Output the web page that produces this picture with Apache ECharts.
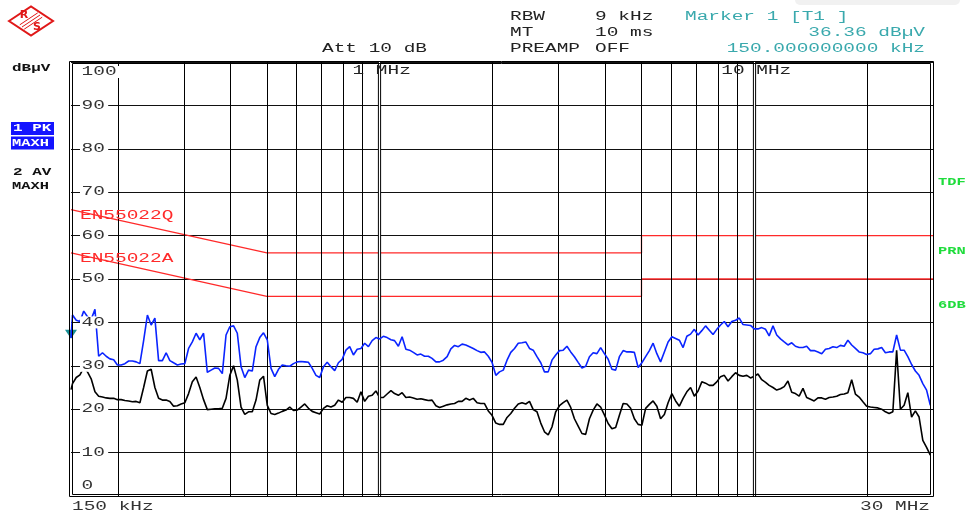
<!DOCTYPE html>
<html>
<head>
<meta charset="utf-8">
<script src="https://cdn.jsdelivr.net/npm/echarts@6/dist/echarts.min.js"></script>
<style>
  html, body { margin: 0; padding: 0; background: #fff; }
  #chart { width: 971px; height: 514px; }
</style>
</head>
<body>
<div id="chart"></div>
<script>
// Sweep frequencies (MHz), shared by both detector traces
const freqMHz = [0.150,
  0.1514,0.1549,0.1585,0.1622,0.1660,0.1698,0.1738,0.1778,0.1820,0.1862,
  0.1905,0.1950,0.1995,0.2042,0.2089,0.2138,0.2188,0.2239,0.2291,0.2344,
  0.2399,0.2455,0.2512,0.2570,0.2630,0.2692,0.2754,0.2818,0.2884,0.2951,
  0.3020,0.3090,0.3162,0.3236,0.3311,0.3388,0.3467,0.3548,0.3631,0.3715,
  0.3802,0.3890,0.3981,0.4074,0.4169,0.4266,0.4365,0.4467,0.4571,0.4677,
  0.4786,0.4898,0.5012,0.5129,0.5248,0.5370,0.5495,0.5623,0.5754,0.5888,
  0.6026,0.6166,0.6310,0.6457,0.6607,0.6761,0.6918,0.7079,0.7244,0.7413,
  0.7586,0.7762,0.7943,0.8128,0.8318,0.8511,0.8710,0.8913,0.9120,0.9333,
  0.9550,0.9772,1.000,1.023,1.047,1.072,1.096,1.122,1.148,1.175,
  1.202,1.230,1.259,1.288,1.318,1.349,1.380,1.413,1.445,1.479,
  1.514,1.549,1.585,1.622,1.660,1.698,1.738,1.778,1.820,1.862,
  1.905,1.950,1.995,2.042,2.089,2.138,2.188,2.239,2.291,2.344,
  2.399,2.455,2.512,2.570,2.630,2.692,2.754,2.818,2.884,2.951,
  3.020,3.090,3.162,3.236,3.311,3.388,3.467,3.548,3.631,3.715,
  3.802,3.890,3.981,4.074,4.169,4.266,4.365,4.467,4.571,4.677,
  4.786,4.898,5.012,5.129,5.248,5.370,5.495,5.623,5.754,5.888,
  6.026,6.166,6.310,6.457,6.607,6.761,6.918,7.079,7.244,7.413,
  7.586,7.762,7.943,8.128,8.318,8.511,8.710,8.913,9.120,9.333,
  9.550,9.772,10.00,10.23,10.47,10.72,10.96,11.22,11.48,11.75,
  12.02,12.30,12.59,12.88,13.18,13.49,13.80,14.13,14.45,14.79,
  15.14,15.49,15.85,16.22,16.60,16.98,17.38,17.78,18.20,18.62,
  19.05,19.50,19.95,20.42,20.89,21.38,21.88,22.39,22.91,23.44,
  23.99,24.55,25.12,25.70,26.30,26.92,27.54,28.18,28.84,29.51];

// Trace 1: peak detector, max hold (dBµV)
const pkLevel = [36.4,
  41.7,40.5,40.2,42.6,41.3,40.7,43.0,32.2,33.0,32.2,
  31.6,31.4,30.2,30.2,30.5,31.1,31.1,30.9,30.5,35.8,
  41.7,39.4,41.0,31.2,31.2,33.0,31.2,30.7,30.2,30.4,
  30.5,34.0,35.5,37.5,36.0,37.5,28.5,29.0,29.5,29.4,
  28.2,37.1,39.0,39.2,37.5,29.8,27.3,29.0,28.8,34.4,
  36.5,37.6,36.0,29.4,27.5,29.2,30.2,30.0,29.9,30.5,
  30.9,31.0,30.9,30.8,29.4,27.8,27.3,29.8,30.8,29.8,
  28.9,30.7,31.5,33.6,34.4,32.5,33.8,34.0,35.2,34.4,
  35.8,36.5,36.2,36.8,36.5,36.0,35.8,34.5,36.7,33.8,
  33.6,33.1,32.5,32.7,32.2,32.2,31.7,30.9,30.9,31.3,
  32.1,33.9,34.7,34.4,35.0,34.8,34.4,34.0,33.5,33.1,
  33.2,32.2,30.8,27.8,28.6,29.0,31.3,33.1,34.0,35.2,
  35.3,35.5,34.0,33.6,32.1,30.7,28.6,28.6,31.3,32.5,
  33.5,33.6,34.5,33.2,32.1,30.8,29.5,29.9,32.1,33.0,
  32.8,34.2,32.8,31.5,29.2,29.0,32.1,33.5,33.2,33.2,
  33.1,29.6,30.7,32.1,33.5,35.2,32.8,30.9,33.2,35.5,
  36.7,36.3,35.9,34.2,36.8,37.3,38.4,37.1,38.1,39.2,
  38.2,37.2,38.4,39.4,40.2,39.0,40.2,40.5,41.0,39.5,
  39.4,39.3,38.5,38.5,38.8,38.4,36.9,39.2,37.1,36.2,
  35.5,34.8,35.3,34.5,34.2,34.2,34.5,33.5,33.5,33.2,
  32.8,33.8,34.0,34.4,34.2,34.7,34.5,35.9,34.8,34.0,
  33.2,33.0,32.6,32.8,33.8,33.9,34.2,33.0,33.2,33.2,
  37.1,33.6,33.6,32.1,30.3,28.8,27.8,25.9,24.4,20.9];

// Trace 2: average detector, max hold (dBµV)
const avLevel = [24.5,
  25.9,27.3,27.9,29.6,28.6,27.0,24.0,23.0,22.8,22.6,
  22.5,22.5,22.2,22.2,22.0,21.9,21.7,21.8,21.5,25.0,
  28.8,29.2,25.0,22.5,22.1,22.1,21.8,20.7,20.8,21.2,
  21.5,23.6,26.3,27.4,25.0,22.2,19.9,20.0,20.1,20.1,
  20.2,22.5,27.8,30.0,26.7,20.5,18.8,19.4,19.4,22.1,
  26.7,27.6,20.9,19.0,18.8,19.1,19.5,19.8,20.5,19.7,
  19.8,20.5,21.2,20.2,19.5,19.2,18.9,20.2,20.8,20.5,
  20.9,22.1,21.6,22.7,22.7,22.5,21.6,24.0,21.8,23.0,
  23.2,24.2,22.7,22.7,23.5,24.3,23.6,23.2,23.8,22.7,
  22.8,22.6,22.3,22.4,22.2,22.0,22.1,20.8,20.4,20.7,
  21.0,21.2,21.3,21.8,21.8,22.5,22.1,22.5,21.5,21.3,
  21.3,19.6,18.6,16.8,16.5,16.5,18.1,19.0,20.2,21.2,
  21.5,21.2,21.8,19.9,19.4,16.8,14.8,14.1,15.9,19.4,
  20.8,21.5,22.1,20.4,17.8,16.1,14.4,14.2,17.8,19.8,
  21.2,20.5,18.7,16.7,15.5,15.8,18.6,21.3,21.2,20.2,
  17.8,16.5,16.3,20.2,21.1,21.9,20.7,17.8,18.8,21.5,
  23.6,21.9,20.7,22.5,24.0,25.0,23.0,24.2,26.3,26.0,
  25.5,25.5,26.3,27.5,27.8,26.5,27.5,28.4,27.8,27.6,
  27.8,27.2,27.6,28.1,26.8,26.2,25.5,25.0,24.4,24.7,
  25.2,26.5,23.9,23.6,23.0,24.8,22.7,22.3,21.9,22.6,
  22.6,22.3,22.7,22.8,23.0,23.4,23.5,23.8,26.8,23.5,
  22.8,21.7,20.7,20.5,20.4,20.3,20.0,19.4,19.0,19.4,
  33.6,20.0,20.9,23.8,18.2,19.6,18.2,12.8,11.2,9.4];

// EN 55022 limit lines
const limitFreq = [0.15, 0.5, 5, 5, 30];
const limitQ = [66, 56, 56, 60, 60];
const limitA = [56, 46, 46, 50, 50];

// Frequency grid lines (MHz), decades drawn as double lines
const gridFreqs = [0.2, 0.3, 0.4, 0.5, 0.6, 0.7, 0.8, 0.9, 2, 3, 4, 5, 6, 7, 8, 9, 20];
const decadeFreqs = [1, 10];
const decadeLabels = ['1 MHz', '10 MHz'];
const levelTicks = [0, 10, 20, 30, 40, 50, 60, 70, 80, 90, 100];

// Marker 1 on trace 1
const markerFreq = 0.15;
const markerLevel = 36.36;

const zip = (xs, ys) => xs.map((x, i) => [x, ys[i]]);

const chart = echarts.init(document.getElementById('chart'), null, { renderer: 'canvas' });

const option = {
  animation: false,
  backgroundColor: '#ffffff',
  grid: { left: 71, right: 38, top: 62, bottom: 18, show: false },
  xAxis: {
    type: 'log', logBase: 10, min: 0.15, max: 30,
    axisLine: { show: false }, axisTick: { show: false },
    axisLabel: { show: false }, splitLine: { show: false }
  },
  yAxis: {
    type: 'value', min: 0, max: 100, interval: 10,
    axisLine: { show: false }, axisTick: { show: false },
    axisLabel: { show: false },
    splitLine: { show: true, lineStyle: { color: '#111', width: 1 } }
  },
  series: [
    {
      name: 'grid', type: 'line', data: [], z: 1, silent: true,
      markLine: {
        silent: true, symbol: 'none', label: { show: false },
        lineStyle: { color: '#000', width: 1, type: 'solid' },
        data: gridFreqs.map(f => ({ xAxis: f }))
          .concat(decadeFreqs.map(f => ({ xAxis: f, lineStyle: { color: '#000', width: 3.2, type: 'solid' } })))
      }
    },
    {
      name: 'gridInner', type: 'line', data: [], z: 2, silent: true,
      markLine: {
        silent: true, symbol: 'none', label: { show: false },
        lineStyle: { color: '#fff', width: 1.2, type: 'solid' },
        data: decadeFreqs.map(f => ({ xAxis: f }))
      }
    },
    {
      name: 'EN55022Q', type: 'line', data: zip(limitFreq, limitQ), z: 3,
      showSymbol: false, symbol: 'none',
      lineStyle: { color: '#ff2a2a', width: 1.3 }
    },
    {
      name: 'EN55022A', type: 'line', data: zip(limitFreq, limitA), z: 3,
      showSymbol: false, symbol: 'none',
      lineStyle: { color: '#ff2a2a', width: 1.3 }
    },
    {
      name: '2 AV', type: 'line', data: zip(freqMHz, avLevel), z: 4,
      showSymbol: false, symbol: 'none',
      lineStyle: { color: '#000', width: 1.6 }
    },
    {
      name: '1 PK', type: 'line', data: zip(freqMHz, pkLevel), z: 5,
      showSymbol: false, symbol: 'none',
      lineStyle: { color: '#0a24ff', width: 1.6 },
      markPoint: {
        silent: true,
        symbol: 'triangle', symbolRotate: 180, symbolSize: [12, 9], symbolOffset: [0, -4],
        itemStyle: { color: '#178f95' },
        label: { show: false },
        data: [{ coord: [markerFreq, markerLevel] }]
      }
    }
  ]
};
chart.setOption(option);

// ---- annotation layer -------------------------------------------------
const MONO = '"Liberation Mono", "DejaVu Sans Mono", monospace';
function label(x, y, text, o) {
  o = o || {};
  return {
    type: 'text', x: x, y: y, z: o.z || 100, zlevel: 0,
    scaleX: o.sx || 1.62,
    silent: true,
    style: {
      text: text,
      font: (o.weight || 'normal') + ' ' + (o.size || 12) + 'px ' + MONO,
      fill: o.color || '#222',
      textAlign: o.align || 'left', align: o.align || 'left',
      textVerticalAlign: 'middle', verticalAlign: 'middle',
      backgroundColor: o.bg, padding: o.pad
    }
  };
}
const px = (f, v) => chart.convertToPixel({ xAxisIndex: 0, yAxisIndex: 0 }, [f, v]);

const g = [];
const lo = px(0.15, 0), hi = px(30, 100);

// faint header panel at the top right
g.push({ type: 'rect', z: 0, silent: true,
  shape: { x: 795, y: -6, width: 165, height: 11, r: 5 },
  style: { fill: '#f1f1f1' } });

// double frame around the plot
g.push({ type: 'rect', z: 60, silent: true,
  shape: { x: lo[0] - 1.5, y: hi[1] - 0.5, width: hi[0] - lo[0] + 2, height: lo[1] - hi[1] + 1 },
  style: { fill: 'none', stroke: '#000', lineWidth: 1 } });
g.push({ type: 'rect', z: 60, silent: true,
  shape: { x: lo[0] + 1.5, y: hi[1] + 1.5, width: hi[0] - lo[0] - 4, height: lo[1] - hi[1] - 3 },
  style: { fill: 'none', stroke: '#000', lineWidth: 1 } });

// level labels inside the plot
levelTicks.forEach(v => {
  const p = px(0.15, v);
  let y = p[1];
  if (v === 100) y += 10;
  if (v === 0) y -= 10;
  g.push(label(p[0] + 9, y, String(v), { color: '#333', bg: '#fff', pad: [0, 2, 0, 1] }));
});

// decade labels at the top edge
decadeFreqs.forEach((f, i) => {
  const p = px(f, 100);
  g.push(label(p[0] + 2, p[1] + 9, decadeLabels[i], { align: 'center', color: '#222' }));
});

// frequency span labels
g.push(label(lo[0] + 1, 507, '150 kHz', { color: '#333' }));
g.push(label(hi[0] - 3, 507, '30 MHz', { align: 'right', color: '#333' }));

// limit line names
const q0 = px(limitFreq[0], limitQ[0]);
const a0 = px(limitFreq[0], limitA[0]);
g.push(label(q0[0] + 9, q0[1] + 6, 'EN55022Q', { color: '#ff2a2a' }));
g.push(label(a0[0] + 9, a0[1] + 6, 'EN55022A', { color: '#ff2a2a' }));

// instrument settings header
const TEAL = '#3aa9ad';
g.push(label(510, 17, 'RBW'));
g.push(label(595, 17, '9 kHz'));
g.push(label(685, 17, 'Marker 1 [T1 ]', { color: TEAL }));
g.push(label(510, 33, 'MT'));
g.push(label(595, 33, '10 ms'));
g.push(label(925, 33, markerLevel.toFixed(2) + ' dBµV', { align: 'right', color: TEAL }));
g.push(label(322, 49, 'Att 10 dB'));
g.push(label(510, 49, 'PREAMP'));
g.push(label(595, 49, 'OFF'));
g.push(label(925, 49, (markerFreq * 1000).toFixed(9) + ' kHz', { align: 'right', color: TEAL }));

// unit and trace legend on the left
g.push(label(12, 68, 'dBµV', { weight: 'bold', size: 11, sx: 1.45, color: '#111' }));
g.push({ type: 'rect', z: 90, silent: true, shape: { x: 11, y: 122, width: 43, height: 13 }, style: { fill: '#1414ff' } });
g.push({ type: 'rect', z: 90, silent: true, shape: { x: 11, y: 136.5, width: 43, height: 13 }, style: { fill: '#1414ff' } });
g.push(label(13, 128.5, '1 PK', { weight: 'bold', size: 11, sx: 1.45, color: '#fff' }));
g.push(label(12, 143, 'MAXH', { weight: 'bold', size: 11, sx: 1.4, color: '#fff' }));
g.push(label(13, 172, '2 AV', { weight: 'bold', size: 11, sx: 1.45, color: '#111' }));
g.push(label(12, 186, 'MAXH', { weight: 'bold', size: 11, sx: 1.4, color: '#111' }));

// status flags on the right
const GREEN = '#1fdc3c';
g.push(label(938, 182, 'TDF', { weight: 'bold', size: 11, sx: 1.4, color: GREEN }));
g.push(label(938, 251, 'PRN', { weight: 'bold', size: 11, sx: 1.4, color: GREEN }));
g.push(label(938, 305, '6DB', { weight: 'bold', size: 11, sx: 1.4, color: GREEN }));

// R&S logo
const RED = '#e01818';
g.push({ type: 'polygon', z: 90, silent: true,
  shape: { points: [[9, 21], [31, 6.5], [53, 21], [31, 35.5]] },
  style: { fill: 'none', stroke: RED, lineWidth: 2 } });
[-2.2, 0, 2.2].forEach(d => {
  g.push({ type: 'line', z: 90, silent: true,
    shape: { x1: 22 + d, y1: 27 + d, x2: 40 + d, y2: 15 + d },
    style: { stroke: RED, lineWidth: 1 } });
});
g.push({ type: 'text', z: 91, silent: true, x: 24, y: 15,
  style: { text: 'R', font: 'bold 11px "DejaVu Sans"', fill: RED, align: 'center', verticalAlign: 'middle', textAlign: 'center', textVerticalAlign: 'middle' } });
g.push({ type: 'text', z: 91, silent: true, x: 37, y: 27,
  style: { text: 'S', font: 'bold 11px "DejaVu Sans"', fill: RED, align: 'center', verticalAlign: 'middle', textAlign: 'center', textVerticalAlign: 'middle' } });

chart.setOption({ graphic: g });
</script>
</body>
</html>
